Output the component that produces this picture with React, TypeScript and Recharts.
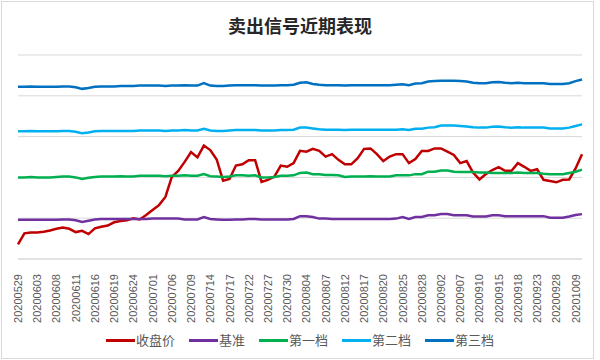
import React from 'react'
import { LineChart, Line, XAxis, YAxis, CartesianGrid } from 'recharts'

const dates = [
    '20200529', '20200601', '20200602', '20200603', '20200604', '20200605', '20200608', '20200609', '20200610', '20200611',
    '20200612', '20200615', '20200616', '20200617', '20200618', '20200619', '20200622', '20200623', '20200624', '20200629',
    '20200630', '20200701', '20200702', '20200703', '20200706', '20200707', '20200708', '20200709', '20200710', '20200713',
    '20200714', '20200715', '20200716', '20200717', '20200720', '20200721', '20200722', '20200723', '20200724', '20200727',
    '20200728', '20200729', '20200730', '20200731', '20200803', '20200804', '20200805', '20200806', '20200807', '20200810',
    '20200811', '20200812', '20200813', '20200814', '20200817', '20200818', '20200819', '20200820', '20200821', '20200824',
    '20200825', '20200826', '20200827', '20200828', '20200831', '20200901', '20200902', '20200903', '20200904', '20200907',
    '20200908', '20200909', '20200910', '20200911', '20200914', '20200915', '20200916', '20200917', '20200918', '20200921',
    '20200922', '20200923', '20200924', '20200925', '20200928', '20200929', '20200930', '20201009', '20201012'
]

const close = [
    0.36, 0.63, 0.65, 0.65, 0.67, 0.70, 0.74, 0.77, 0.74, 0.66,
    0.69, 0.61, 0.75, 0.79, 0.82, 0.90, 0.93, 0.95, 1.00, 0.97,
    1.08, 1.20, 1.32, 1.52, 2.01, 2.16, 2.38, 2.62, 2.49, 2.78,
    2.67, 2.44, 1.92, 1.96, 2.29, 2.32, 2.42, 2.42, 1.89, 1.94,
    2.02, 2.29, 2.26, 2.35, 2.65, 2.63, 2.70, 2.65, 2.51, 2.57,
    2.43, 2.32, 2.32, 2.47, 2.70, 2.71, 2.57, 2.40, 2.51, 2.57,
    2.57, 2.35, 2.45, 2.65, 2.65, 2.71, 2.71, 2.63, 2.55, 2.35,
    2.40, 2.12, 1.95, 2.08, 2.18, 2.25, 2.16, 2.16, 2.35, 2.26,
    2.16, 2.20, 1.94, 1.91, 1.88, 1.94, 1.95, 2.22, 2.57
]

const base = [
    0.96, 0.96, 0.96, 0.96, 0.96, 0.96, 0.96, 0.97, 0.97, 0.95,
    0.91, 0.94, 0.97, 0.98, 0.98, 0.98, 0.98, 0.98, 0.98, 0.98,
    0.98, 0.99, 0.99, 0.99, 0.99, 0.99, 0.97, 0.97, 0.97, 1.03,
    0.98, 0.97, 0.96, 0.96, 0.97, 0.97, 0.98, 0.98, 0.97, 0.97,
    0.97, 0.97, 0.97, 0.98, 1.05, 1.05, 1.03, 0.99, 0.99, 0.98,
    0.98, 0.98, 0.98, 0.98, 0.98, 0.98, 0.98, 0.98, 0.98, 0.99,
    1.03, 0.98, 1.03, 1.03, 1.07, 1.07, 1.10, 1.10, 1.07, 1.07,
    1.07, 1.04, 1.04, 1.04, 1.07, 1.07, 1.05, 1.05, 1.05, 1.05,
    1.05, 1.05, 1.05, 1.01, 1.01, 1.01, 1.04, 1.08, 1.10
]

const first = [
    2.00, 2.00, 2.01, 2.00, 2.00, 2.00, 2.01, 2.02, 2.02, 2.00,
    1.96, 1.99, 2.01, 2.02, 2.02, 2.02, 2.03, 2.02, 2.02, 2.04,
    2.04, 2.04, 2.04, 2.03, 2.04, 2.04, 2.05, 2.04, 2.04, 2.08,
    2.03, 2.02, 2.01, 2.02, 2.05, 2.05, 2.04, 2.05, 2.00, 2.00,
    2.01, 2.04, 2.04, 2.05, 2.11, 2.12, 2.08, 2.08, 2.06, 2.06,
    2.05, 2.01, 2.02, 2.02, 2.02, 2.03, 2.02, 2.02, 2.02, 2.05,
    2.05, 2.05, 2.08, 2.08, 2.14, 2.14, 2.17, 2.17, 2.14, 2.13,
    2.13, 2.13, 2.12, 2.12, 2.11, 2.11, 2.11, 2.11, 2.12, 2.11,
    2.11, 2.11, 2.09, 2.08, 2.08, 2.08, 2.11, 2.14, 2.19
]

const second = [
    3.13, 3.13, 3.14, 3.13, 3.13, 3.13, 3.13, 3.14, 3.14, 3.12,
    3.08, 3.10, 3.13, 3.14, 3.14, 3.14, 3.14, 3.14, 3.14, 3.15,
    3.15, 3.15, 3.15, 3.14, 3.15, 3.15, 3.16, 3.15, 3.15, 3.19,
    3.15, 3.14, 3.14, 3.15, 3.16, 3.16, 3.16, 3.16, 3.15, 3.15,
    3.15, 3.16, 3.16, 3.17, 3.22, 3.22, 3.20, 3.18, 3.17, 3.17,
    3.17, 3.16, 3.17, 3.17, 3.17, 3.17, 3.17, 3.17, 3.17, 3.17,
    3.18, 3.16, 3.19, 3.19, 3.22, 3.23, 3.27, 3.27, 3.27, 3.26,
    3.25, 3.23, 3.22, 3.22, 3.24, 3.25, 3.23, 3.22, 3.23, 3.22,
    3.22, 3.22, 3.22, 3.20, 3.20, 3.20, 3.22, 3.26, 3.30
]

const third = [
    4.22, 4.22, 4.23, 4.22, 4.22, 4.22, 4.22, 4.23, 4.23, 4.21,
    4.17, 4.19, 4.22, 4.23, 4.23, 4.23, 4.24, 4.24, 4.24, 4.25,
    4.25, 4.25, 4.25, 4.24, 4.25, 4.25, 4.26, 4.25, 4.25, 4.31,
    4.25, 4.24, 4.24, 4.25, 4.26, 4.26, 4.26, 4.26, 4.25, 4.25,
    4.25, 4.26, 4.26, 4.27, 4.32, 4.33, 4.29, 4.27, 4.26, 4.26,
    4.26, 4.25, 4.26, 4.26, 4.26, 4.26, 4.26, 4.26, 4.26, 4.27,
    4.28, 4.26, 4.30, 4.31, 4.35, 4.36, 4.37, 4.37, 4.37, 4.36,
    4.35, 4.32, 4.31, 4.31, 4.33, 4.34, 4.32, 4.31, 4.32, 4.31,
    4.31, 4.31, 4.31, 4.29, 4.29, 4.29, 4.31, 4.36, 4.40
]

const yTicks = [0, 1, 2, 3, 4, 5]

const series = [
    { key: 'close', name: '收盘价', color: '#C00000' },
    { key: 'base', name: '基准', color: '#7030A0' },
    { key: 'first', name: '第一档', color: '#00B050' },
    { key: 'second', name: '第二档', color: '#00B0F0' },
    { key: 'third', name: '第三档', color: '#0070C0' }
]

const data = dates.map((date, i) => ({
    date,
    close: close[i],
    base: base[i],
    first: first[i],
    second: second[i],
    third: third[i]
}))

const DateTick = ({ x, y, payload }: any) => (
    <g transform={`translate(${x},${y + 7})`}>
        <text
            transform="rotate(-90)"
            textAnchor="end"
            dominantBaseline="central"
            fontSize={11}
            fill="#595959"
            fontFamily="'Liberation Sans', Arial, sans-serif"
        >
            {payload.value}
        </text>
    </g>
)

// legend drawn as plain html under the chart so it doesn't eat plot height
const LegendRow = () => (
    <div
        style={{
            position: 'absolute',
            top: 331,
            left: 0,
            width: 600,
            display: 'flex',
            justifyContent: 'center',
            fontFamily: "'Noto Sans CJK SC', sans-serif",
            fontSize: 13,
            lineHeight: '18px',
            color: '#595959'
        }}
    >
        {series.map((s) => (
            <div key={s.key} style={{ display: 'flex', alignItems: 'center', margin: '0 7px' }}>
                <div style={{ width: 29, height: 3, background: s.color, marginRight: 1 }} />
                <span>{s.name}</span>
            </div>
        ))}
    </div>
)

export default function App() {
    return (
        <div style={{ position: 'absolute', left: 0, top: 0, width: 600, height: 360, background: '#fff' }}>
            <div
                style={{
                    position: 'absolute',
                    left: 1,
                    top: 1,
                    width: 591,
                    height: 356,
                    border: '1px solid #d9d9d9'
                }}
            />
            <div
                style={{
                    position: 'absolute',
                    top: 12,
                    width: 600,
                    textAlign: 'center',
                    fontFamily: "'Noto Sans CJK SC', sans-serif",
                    fontWeight: 'bold',
                    fontSize: 18,
                    color: '#262626'
                }}
            >
                卖出信号近期表现
            </div>
            <div style={{ position: 'absolute', left: 0, top: 0 }}>
                <LineChart width={600} height={360} data={data} margin={{ top: 55, right: 18, left: 18, bottom: 31 }}>
                    <CartesianGrid vertical={false} stroke="#d9d9d9" />
                    <XAxis
                        dataKey="date"
                        interval={2}
                        tick={<DateTick />}
                        tickLine={false}
                        axisLine={{ stroke: '#d9d9d9' }}
                        height={70}
                    />
                    <YAxis hide domain={[0, 5]} ticks={yTicks} />
                    {series.map((s) => (
                        <Line
                            key={s.key}
                            type="linear"
                            dataKey={s.key}
                            name={s.name}
                            stroke={s.color}
                            strokeWidth={2.5}
                            dot={false}
                            isAnimationActive={false}
                        />
                    ))}
                </LineChart>
            </div>
            <LegendRow />
        </div>
    )
}
